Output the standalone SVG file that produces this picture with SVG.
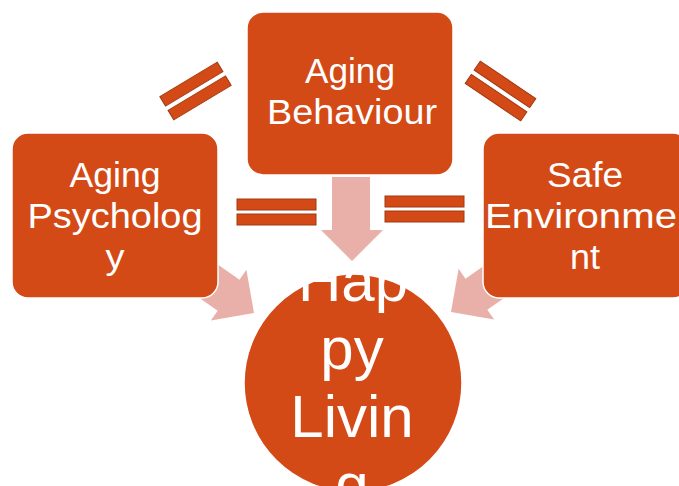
<svg xmlns="http://www.w3.org/2000/svg" width="679" height="486" viewBox="0 0 679 486">
  <style>
    .node { fill: #D34A17; stroke: #FFFFFF; stroke-width: 1.5; }
    .lbl { fill: #FFFFFF; font-family: "Liberation Sans", Arial, sans-serif; font-size: 35px; text-anchor: middle; }
    .big { fill: #FFFFFF; font-family: "Liberation Sans", Arial, sans-serif; font-size: 60px; text-anchor: middle; }
    .arrow { fill: #E8B0A8; }
    .eq { fill: #D34A17; stroke: #A23810; stroke-width: 1; }
  </style>
  <defs>
    <!-- block arrow pointing along +x, tip at origin -->
    <path id="blockArrow" d="M0,0 L-31,-31 L-31,-19 L-110,-19 L-110,19 L-31,19 L-31,31 Z"/>
    <!-- pair of parallel bars, centred on origin -->
    <g id="eqPair">
      <rect x="-33.5" y="-13.5" width="67" height="11"/>
      <rect x="-33.5" y="2.5" width="67" height="11"/>
    </g>
  </defs>

  <g id="connectors">
    <!-- block arrows into the circle -->
    <path class="arrow" d="M332,177 L370,177 L370,230 L383,230 L352,261 L321,230 L332,230 Z"/>
    <use class="arrow" href="#blockArrow" transform="translate(254,313) rotate(35)"/>
    <use class="arrow" href="#blockArrow" transform="translate(451,312) rotate(145)"/>
    <!-- double bars between nodes -->
    <g class="eq">
      <use href="#eqPair" transform="translate(195.5,91) rotate(-31)"/>
      <use href="#eqPair" transform="translate(500.5,91) rotate(34)"/>
      <rect x="237" y="199" width="79" height="11"/>
      <rect x="237" y="214" width="79" height="11"/>
      <rect x="385" y="196" width="79" height="11"/>
      <rect x="385" y="211" width="79" height="11"/>
    </g>
  </g>

  <g id="node-behaviour">
    <rect class="node" x="247" y="12" width="206" height="163" rx="16"/>
    <text class="lbl" x="350" y="83" textLength="90" lengthAdjust="spacingAndGlyphs">Aging</text>
    <text class="lbl" x="352" y="124" textLength="170" lengthAdjust="spacingAndGlyphs">Behaviour</text>
  </g>

  <g id="node-psychology">
    <rect class="node" x="12" y="133" width="206" height="165" rx="16"/>
    <text class="lbl" x="115" y="187" textLength="91" lengthAdjust="spacingAndGlyphs">Aging</text>
    <text class="lbl" x="115" y="228" textLength="175" lengthAdjust="spacingAndGlyphs">Psycholog</text>
    <text class="lbl" x="115" y="269" textLength="19" lengthAdjust="spacingAndGlyphs">y</text>
  </g>

  <g id="node-environment">
    <rect class="node" x="483" y="133" width="206" height="165" rx="16"/>
    <text class="lbl" x="585" y="187" textLength="76" lengthAdjust="spacingAndGlyphs">Safe</text>
    <text class="lbl" x="581" y="228" textLength="192" lengthAdjust="spacingAndGlyphs">Environme</text>
    <text class="lbl" x="585" y="269" textLength="30" lengthAdjust="spacingAndGlyphs">nt</text>
  </g>

  <g id="node-happy">
    <circle class="node" cx="353" cy="383" r="109"/>
    <text class="big" x="353" y="301">Hap</text>
    <text class="big" x="352" y="369">py</text>
    <text class="big" x="352" y="437">Livin</text>
    <text class="big" x="352" y="505">g</text>
  </g>
</svg>
